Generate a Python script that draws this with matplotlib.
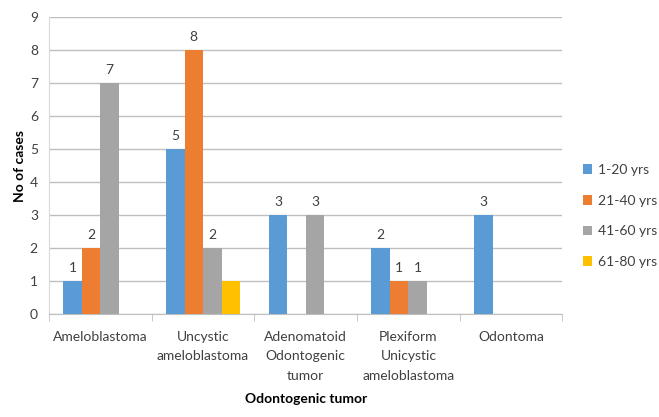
import matplotlib
matplotlib.use('Agg')
import matplotlib.pyplot as plt
import numpy as np

plt.rcParams['font.family'] = ['Lato', 'DejaVu Sans']

categories = ['Ameloblastoma', 'Uncystic\nameloblastoma', 'Adenomatoid\nOdontogenic\ntumor',
              'Plexiform\nUnicystic\nameloblastoma', 'Odontoma']
age_groups = ['1-20 yrs', '21-40 yrs', '41-60 yrs', '61-80 yrs']
yrs_1_20 = [1, 5, 3, 2, 3]
yrs_21_40 = [2, 8, 0, 1, 0]
yrs_41_60 = [7, 2, 3, 1, 0]
yrs_61_80 = [0, 1, 0, 0, 0]
series = [yrs_1_20, yrs_21_40, yrs_41_60, yrs_61_80]
colors = ['#5B9BD5', '#ED7D31', '#A5A5A5', '#FFC000']
# the 61-80 series carries no data labels in the original
show_labels = [True, True, True, False]

fig = plt.figure(figsize=(6.59, 4.17), dpi=100)
ax = fig.add_axes([0.0744, 0.247, 0.779, 0.712])

x = np.arange(len(categories))
w = 0.18
for i, (vals, col, lab) in enumerate(zip(series, colors, age_groups)):
    pos = x + (i - 1.5) * w
    bars = ax.bar(pos, vals, width=w, color=col, label=lab, zorder=3)
    if not show_labels[i]:
        continue
    for b, v in zip(bars, vals):
        if v > 0:
            ax.text(b.get_x() + b.get_width() / 2, v + 0.22, str(v),
                    ha='center', va='bottom', fontsize=10, color='#404040')

ax.set_xlim(-0.5, len(categories) - 0.5)
ax.set_ylim(0, 9)
ax.set_yticks(range(10))
ax.yaxis.grid(True, color='#BFBFBF', linewidth=1, zorder=0)
ax.set_xticks(x)
ax.set_xticklabels(categories, fontsize=10, color='#404040', linespacing=1.75)
ax.tick_params(axis='x', length=0, pad=12)
ax.tick_params(axis='y', length=0, labelsize=10, labelcolor='#404040', pad=8)
# minor ticks at category boundaries
ax.set_xticks(np.arange(-0.5, len(categories)), minor=True)
ax.tick_params(axis='x', which='minor', length=5, color='#BFBFBF')

for s in ['top', 'right']:
    ax.spines[s].set_visible(False)
ax.spines['left'].set_color('#D9D9D9')
ax.spines['bottom'].set_color('#BFBFBF')

ax.set_ylabel('No of cases', fontsize=10, fontweight='bold', color='#000000', labelpad=3)
ax.set_xlabel('Odontogenic tumor', fontsize=10, fontweight='bold', color='#000000', labelpad=8)

ax.legend(loc='center left', bbox_to_anchor=(1.015, 0.33), frameon=False, fontsize=10,
          handlelength=0.7, handleheight=0.7, handletextpad=0.4, labelspacing=1.35,
          labelcolor='#404040')

fig.savefig('out.png', dpi=100)
